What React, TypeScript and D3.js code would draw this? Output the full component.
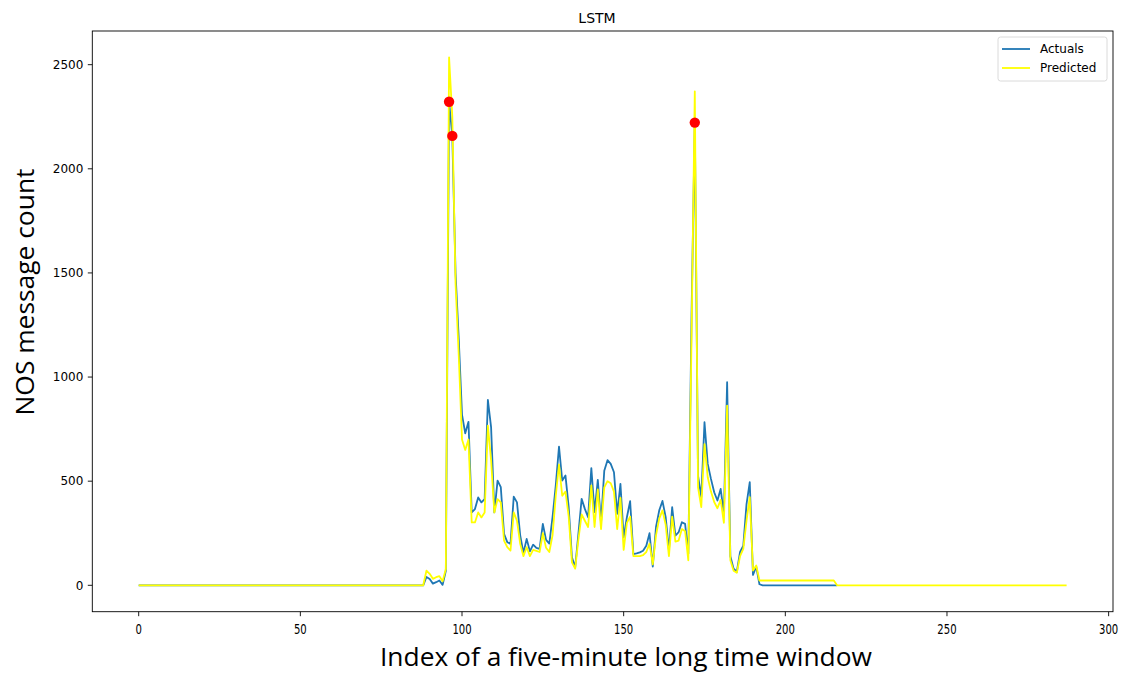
import React, { useEffect, useRef } from 'react';
import * as d3 from 'd3';

// window indices 89..192 carry traffic, everything else is flat
const activeStart = 89;
const actualsActive = [
  40, 30, 8, 15, 23, 2, 70, 2322, 2158, 1500,
  1180, 820, 730, 785, 350, 366, 422, 398, 414, 890,
  758, 350, 503, 471, 247, 207, 199, 426, 398, 240,
  155, 223, 163, 195, 180, 175, 295, 218, 200, 327,
  480, 666, 503, 527, 375, 134, 86, 247, 415, 367,
  327, 563, 351, 506, 300, 550, 601, 583, 543, 343,
  487, 230, 327, 404, 150, 153, 158, 166, 190, 250,
  90, 280, 360, 405, 327, 167, 375, 239, 255, 303,
  295, 151, 1300, 2222, 527, 423, 783, 583, 511, 447,
  407, 463, 343, 975, 140, 80, 65, 160, 190, 390,
  495, 50, 90, 5,
];
const predictedActive = [
  70, 55, 31, 39, 44, 19, 78, 2535, 2250, 1450,
  1100, 700, 650, 700, 302, 302, 350, 326, 350, 767,
  600, 350, 414, 398, 215, 183, 167, 350, 310, 199,
  140, 183, 140, 170, 165, 160, 250, 180, 160, 240,
  430, 580, 430, 450, 330, 110, 80, 220, 340, 310,
  280, 480, 280, 460, 270, 470, 500, 490, 450, 270,
  420, 170, 300, 330, 140, 140, 140, 145, 160, 200,
  100, 240, 320, 360, 290, 140, 330, 210, 215, 270,
  260, 120, 1200, 2372, 470, 375, 678, 519, 450, 400,
  370, 410, 300, 863, 120, 70, 60, 140, 175, 311,
  423, 71, 95, 23,
];
// flat tails
const actualsLength = 217;
const predictedLength = 288;
const predictedPlateau = 23; // predicted stays ~23 up to index 215
const plateauEnd = 215;
const anomalyIdx = [96, 97, 172];

const xTicks = [0, 50, 100, 150, 200, 250, 300];
const yTicks = [0, 500, 1000, 1500, 2000, 2500];

const buildSeries = (active: number[], len: number, tail: (i: number) => number) => {
  const out: number[] = [];
  for (let i = 0; i < len; i++) {
    if (i < activeStart) out.push(0);
    else if (i < activeStart + active.length) out.push(active[i - activeStart]);
    else out.push(tail(i));
  }
  return out;
};

const actuals = buildSeries(actualsActive, actualsLength, () => 0);
const predicted = buildSeries(predictedActive, predictedLength, i => (i <= plateauEnd ? predictedPlateau : 0));

const App = () => {
  const svgRef = useRef<SVGSVGElement>(null);

  useEffect(() => {
    const svg = d3.select(svgRef.current);
    svg.selectAll('*').remove();

    const left = 92.3, right = 1113, top = 31, bottom = 611.7;
    const font = 'DejaVu Sans, sans-serif';

    const x = d3.scaleLinear().domain([-14.35, 301.35]).range([left, right]);
    const y = d3.scaleLinear().domain([-126.75, 2661.75]).range([bottom, top]);

    const line = d3.line<number>()
      .x((d, i) => x(i))
      .y(d => y(d));

    svg.append('path')
      .datum(actuals)
      .attr('d', line)
      .attr('fill', 'none')
      .attr('stroke', '#1f77b4')
      .attr('stroke-width', 1.8)
      .attr('stroke-linejoin', 'round');

    svg.append('path')
      .datum(predicted)
      .attr('d', line)
      .attr('fill', 'none')
      .attr('stroke', '#ffff00')
      .attr('stroke-width', 1.8)
      .attr('stroke-linejoin', 'round');

    svg.selectAll('circle.anom')
      .data(anomalyIdx)
      .enter().append('circle')
      .attr('class', 'anom')
      .attr('cx', d => x(d))
      .attr('cy', d => y(actuals[d]))
      .attr('r', 5.2)
      .attr('fill', '#ff0000');

    // frame
    svg.append('rect')
      .attr('x', left).attr('y', top)
      .attr('width', right - left).attr('height', bottom - top)
      .attr('fill', 'none').attr('stroke', '#000').attr('stroke-width', 0.9);

    // x axis
    const gx = svg.append('g');
    gx.selectAll('line').data(xTicks).enter().append('line')
      .attr('x1', d => x(d)).attr('x2', d => x(d))
      .attr('y1', bottom).attr('y2', bottom + 4.5)
      .attr('stroke', '#000').attr('stroke-width', 0.9);
    gx.selectAll('text').data(xTicks).enter().append('text')
      .attr('x', d => x(d)).attr('y', bottom + 22)
      .attr('text-anchor', 'middle')
      .attr('font-family', font).attr('font-size', 14)
      .attr('transform', d => `translate(${x(d) * 0.28},0) scale(0.72,1)`)
      .text(d => d);

    // y axis
    const gy = svg.append('g');
    gy.selectAll('line').data(yTicks).enter().append('line')
      .attr('x1', left - 4.5).attr('x2', left)
      .attr('y1', d => y(d)).attr('y2', d => y(d))
      .attr('stroke', '#000').attr('stroke-width', 0.9);
    gy.selectAll('text').data(yTicks).enter().append('text')
      .attr('x', left - 9).attr('y', d => y(d))
      .attr('dy', '0.35em')
      .attr('text-anchor', 'end')
      .attr('font-family', font).attr('font-size', 12)
      .text(d => d);

    svg.append('text')
      .attr('x', 597).attr('y', 23)
      .attr('text-anchor', 'middle')
      .attr('font-family', font).attr('font-size', 14)
      .text('LSTM');

    svg.append('text')
      .attr('x', 626).attr('y', 666)
      .attr('text-anchor', 'middle')
      .attr('font-family', 'Open Sans, sans-serif').attr('font-size', 26)
      .attr('textLength', 492).attr('lengthAdjust', 'spacingAndGlyphs')
      .text('Index of a five-minute long time window');

    svg.append('text')
      .attr('transform', 'translate(34,292) rotate(-90)')
      .attr('text-anchor', 'middle')
      .attr('font-family', 'Open Sans, sans-serif').attr('font-size', 26)
      .attr('textLength', 247).attr('lengthAdjust', 'spacingAndGlyphs')
      .text('NOS message count');

    // legend
    const legend = svg.append('g');
    legend.append('rect')
      .attr('x', 998).attr('y', 37).attr('width', 109).attr('height', 44)
      .attr('rx', 2.5)
      .attr('fill', '#fff').attr('fill-opacity', 0.8)
      .attr('stroke', '#d6d6d6').attr('stroke-width', 0.9);
    const items = [
      { name: 'Actuals', color: '#1f77b4' },
      { name: 'Predicted', color: '#ffff00' },
    ];
    const li = legend.selectAll('g').data(items).enter().append('g')
      .attr('transform', (d, i) => `translate(0,${49 + i * 19})`);
    li.append('line')
      .attr('x1', 1002).attr('x2', 1030)
      .attr('stroke', d => d.color).attr('stroke-width', 1.8);
    li.append('text')
      .attr('x', 1040).attr('dy', '0.35em')
      .attr('font-family', font).attr('font-size', 12)
      .text(d => d.name);
  }, []);

  return (
    <svg
      ref={svgRef}
      width={1128}
      height={679}
      style={{ position: 'absolute', left: 0, top: 0, background: '#fff' }}
    />
  );
};

export default App;
